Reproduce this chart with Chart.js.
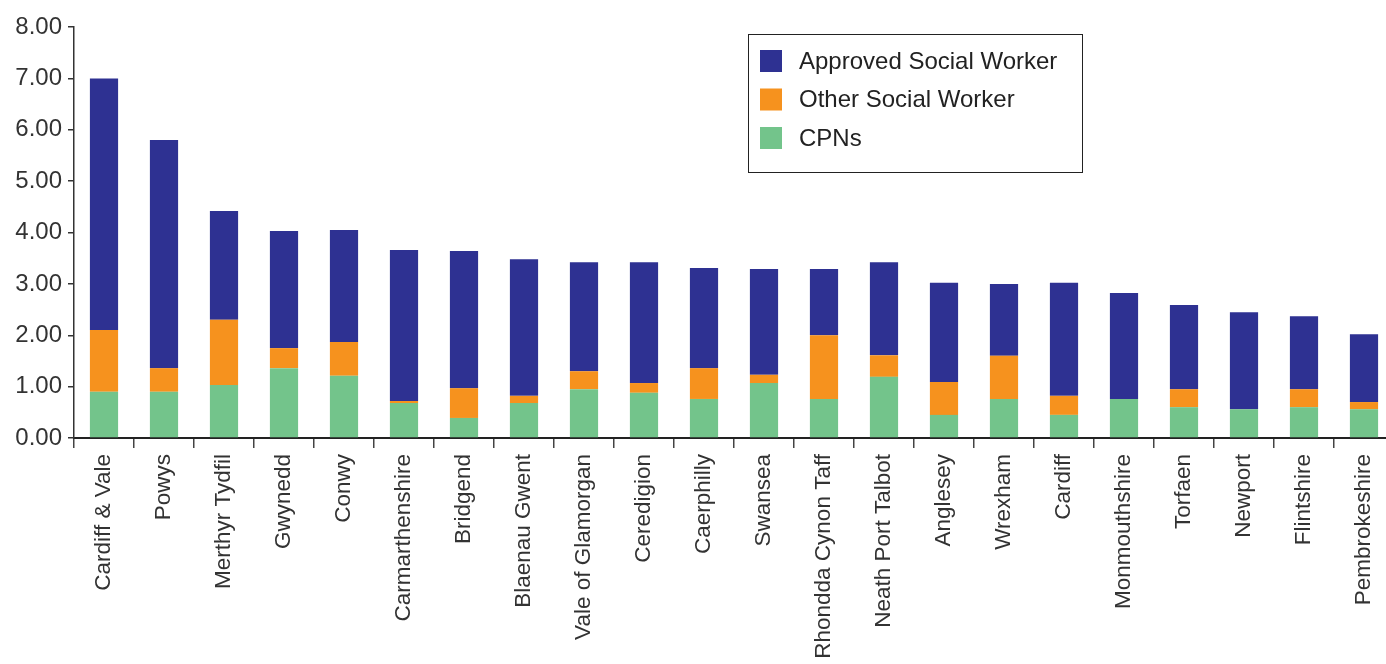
<!DOCTYPE html>
<html>
<head>
<meta charset="utf-8">
<script src="https://cdn.jsdelivr.net/npm/chart.js@4/dist/chart.umd.min.js"></script>
<style>
  html, body { margin: 0; padding: 0; background: #fff; overflow: hidden; }
  body { width: 1386px; height: 664px; }
  #wrap { width: 1400px; height: 664px; }
</style>
</head>
<body>
<div id="wrap"><canvas id="chart"></canvas></div>
<script>
const areas = ['Cardiff & Vale', 'Powys', 'Merthyr Tydfil', 'Gwynedd', 'Conwy', 'Carmarthenshire',
    'Bridgend', 'Blaenau Gwent', 'Vale of Glamorgan', 'Ceredigion', 'Caerphilly', 'Swansea',
    'Rhondda Cynon Taff', 'Neath Port Talbot', 'Anglesey', 'Wrexham', 'Cardiff', 'Monmouthshire',
    'Torfaen', 'Newport', 'Flintshire', 'Pembrokeshire'];

const cpns = [0.90, 0.90, 1.03, 1.36, 1.21, 0.68, 0.39, 0.68, 0.95, 0.88, 0.76, 1.07,
    0.76, 1.19, 0.45, 0.76, 0.45, 0.76, 0.60, 0.56, 0.60, 0.56];
const otherSW = [1.20, 0.46, 1.27, 0.39, 0.66, 0.04, 0.58, 0.14, 0.35, 0.19, 0.60, 0.16,
    1.24, 0.42, 0.64, 0.84, 0.37, 0.00, 0.35, 0.00, 0.35, 0.14];
const approvedSW = [4.90, 4.44, 2.12, 2.28, 2.18, 2.94, 2.67, 2.66, 2.12, 2.35, 1.95, 2.06,
    1.29, 1.81, 1.93, 1.40, 2.20, 2.06, 1.64, 1.89, 1.42, 1.32];

const yTicks = [0, 1, 2, 3, 4, 5, 6, 7, 8];

const textColor = '#333';
const fontFamily = '"Liberation Sans", Arial, sans-serif';

// legend drawn as a boxed list in the upper right, top entry first
const boxLegend = {
    id: 'boxLegend',
    afterDraw(chart) {
        const ctx = chart.ctx;
        const x = 748, y = 34, w = 334, h = 138;
        ctx.save();
        ctx.fillStyle = '#fff';
        ctx.fillRect(x, y, w, h);
        ctx.strokeStyle = '#222';
        ctx.lineWidth = 1;
        ctx.strokeRect(x + 0.5, y + 0.5, w, h);
        const items = chart.data.datasets.slice().reverse();
        ctx.font = '24px ' + fontFamily;
        ctx.textBaseline = 'middle';
        items.forEach((ds, i) => {
            const cy = 61 + i * 38.5;
            ctx.fillStyle = ds.backgroundColor;
            ctx.fillRect(760, cy - 11, 22, 22);
            ctx.fillStyle = '#222';
            ctx.fillText(ds.label, 799, cy + 1);
        });
        ctx.restore();
    }
};

new Chart(document.getElementById('chart'), {
    type: 'bar',
    data: {
        labels: areas,
        datasets: [
            { label: 'CPNs', data: cpns, backgroundColor: '#73c48b' },
            { label: 'Other Social Worker', data: otherSW, backgroundColor: '#f6921e' },
            { label: 'Approved Social Worker', data: approvedSW, backgroundColor: '#2e3192' }
        ]
    },
    options: {
        responsive: true,
        maintainAspectRatio: false,
        animation: false,
        datasets: { bar: { barPercentage: 0.47, categoryPercentage: 1 } },
        layout: { padding: { top: 27, right: 6, left: 0, bottom: 0 } },
        plugins: { legend: { display: false }, tooltip: { enabled: false } },
        scales: {
            x: {
                stacked: true,
                afterFit: scale => { scale.height = 226; },
                border: { color: '#222', width: 2 },
                grid: { drawOnChartArea: false, tickLength: 10, color: '#444', lineWidth: 1.5, offset: true },
                ticks: {
                    color: textColor,
                    font: { family: fontFamily, size: 22.5 },
                    minRotation: 90, maxRotation: 90,
                    padding: 6, autoSkip: false
                }
            },
            y: {
                stacked: true,
                min: 0, max: 8,
                afterFit: scale => { scale.width = 74; },
                afterBuildTicks: scale => { scale.ticks = yTicks.map(v => ({ value: v })); },
                border: { color: '#333', width: 1.5 },
                grid: { drawOnChartArea: false, tickLength: 6, color: '#333', lineWidth: 1.5 },
                ticks: {
                    color: textColor,
                    font: { family: fontFamily, size: 24 },
                    padding: 6,
                    callback: v => Number(v).toFixed(2)
                }
            }
        }
    },
    plugins: [boxLegend]
});
</script>
</body>
</html>
